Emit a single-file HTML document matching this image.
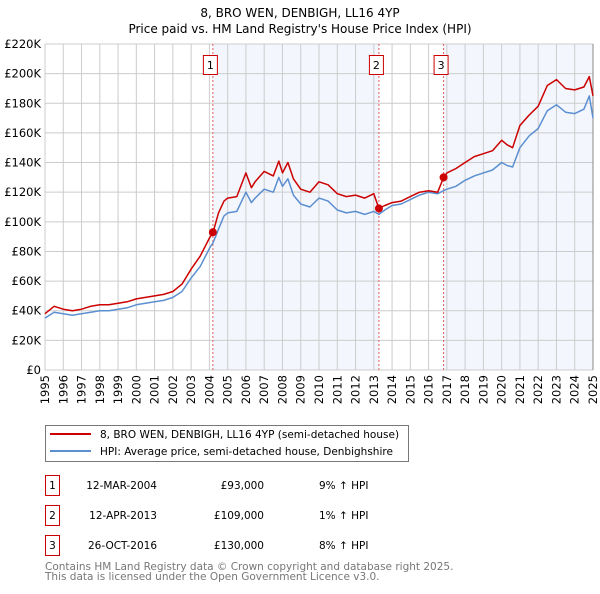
<!DOCTYPE html>
<html><head><meta charset="utf-8"><style>
body{margin:0;background:#fff;font-family:"DejaVu Sans","Liberation Sans",sans-serif;}
svg text{font-family:"DejaVu Sans","Liberation Sans",sans-serif;}
</style></head><body>
<svg id="chart" width="600" height="590" viewBox="0 0 600 590" xmlns="http://www.w3.org/2000/svg">
<text x="300" y="17" text-anchor="middle" font-size="12" fill="#000">8, BRO WEN, DENBIGH, LL16 4YP</text>
<text x="300" y="33" text-anchor="middle" font-size="12" fill="#000">Price paid vs. HM Land Registry's House Price Index (HPI)</text>
<g id="plot"></g>
<g>
<rect x="45.5" y="425.5" width="363" height="36" fill="#fff" stroke="#777"/>
<line x1="50" y1="434" x2="91" y2="434" stroke="#cc0000" stroke-width="2"/>
<text x="100" y="438" font-size="10.5">8, BRO WEN, DENBIGH, LL16 4YP (semi-detached house)</text>
<line x1="50" y1="451" x2="91" y2="451" stroke="#5b8fd0" stroke-width="2"/>
<text x="100" y="455" font-size="10.5">HPI: Average price, semi-detached house, Denbighshire</text>
</g>
<g font-size="10.5">
<rect x="45.5" y="475.5" width="14" height="20" fill="#fff" stroke="#cc0000"/><text x="52.5" y="489" text-anchor="middle">1</text>
<text x="157" y="489" text-anchor="end">12-MAR-2004</text><text x="264" y="489" text-anchor="end">£93,000</text><text x="319" y="489">9% ↑ HPI</text>
<rect x="45.5" y="505.5" width="14" height="20" fill="#fff" stroke="#cc0000"/><text x="52.5" y="519" text-anchor="middle">2</text>
<text x="157" y="519" text-anchor="end">12-APR-2013</text><text x="264" y="519" text-anchor="end">£109,000</text><text x="319" y="519">1% ↑ HPI</text>
<rect x="45.5" y="535.5" width="14" height="20" fill="#fff" stroke="#cc0000"/><text x="52.5" y="549" text-anchor="middle">3</text>
<text x="157" y="549" text-anchor="end">26-OCT-2016</text><text x="264" y="549" text-anchor="end">£130,000</text><text x="319" y="549">8% ↑ HPI</text>
</g>
<text x="45" y="570" font-size="10.5" fill="#777">Contains HM Land Registry data © Crown copyright and database right 2025.</text>
<text x="45" y="580" font-size="10.5" fill="#777">This data is licensed under the Open Government Licence v3.0.</text>
</svg>
<script>
const dates=[1995,1995.5,1996,1996.5,1997,1997.5,1998,1998.5,1999,1999.5,2000,2000.5,2001,2001.5,2002,2002.5,2003,2003.5,2004,2004.2,2004.5,2004.8,2005,2005.5,2006,2006.3,2006.5,2007,2007.5,2007.8,2008,2008.3,2008.6,2009,2009.5,2010,2010.5,2011,2011.5,2012,2012.5,2013,2013.28,2013.6,2014,2014.5,2015,2015.5,2016,2016.5,2016.82,2017,2017.5,2018,2018.5,2019,2019.5,2020,2020.3,2020.6,2021,2021.5,2022,2022.5,2023,2023.5,2024,2024.5,2024.8,2025];
const hpiValues=[35,39,38,37,38,39,40,40,41,42,44,45,46,47,49,53,62,70,82,86,95,104,106,107,120,113,116,122,120,130,124,129,118,112,110,116,114,108,106,107,105,107,105,108,111,112,115,118,120,119,121,122,124,128,131,133,135,140,138,137,150,158,163,175,179,174,173,176,185,170];
const priceValues=[38,43,41,40,41,43,44,44,45,46,48,49,50,51,53,58,68,77,89,93,106,114,116,117,133,123,127,134,131,141,133,140,129,122,120,127,125,119,117,118,116,119,109,111,113,114,117,120,121,120,130,133,136,140,144,146,148,155,152,150,165,172,178,192,196,190,189,191,198,185];
const saleDates=[2004.19,2013.28,2016.82];
const salePrices=[93,109,130];
const yTicks=[0,20,40,60,80,100,120,140,160,180,200,220];
const yTickLabels=["£0","£20K","£40K","£60K","£80K","£100K","£120K","£140K","£160K","£180K","£200K","£220K"];
const xTicks=[1995,1996,1997,1998,1999,2000,2001,2002,2003,2004,2005,2006,2007,2008,2009,2010,2011,2012,2013,2014,2015,2016,2017,2018,2019,2020,2021,2022,2023,2024,2025];

const NS="http://www.w3.org/2000/svg";
const X0=45,X1=593,Y0=370,Y1=44;
const xs=d=>X0+(d-1995)/30*(X1-X0);
const ys=v=>Y0-v/220*(Y0-Y1);
const g=document.getElementById('plot');
function mk(t,a){const e=document.createElementNS(NS,t);for(const k in a)e.setAttribute(k,a[k]);g.appendChild(e);return e;}
let s1=mk('rect',{x:xs(saleDates[0]),y:Y1,width:xs(saleDates[1])-xs(saleDates[0]),height:Y0-Y1,fill:'#f3f6fd'});


let s2=mk('rect',{x:xs(saleDates[2]),y:Y1,width:X1-xs(saleDates[2]),height:Y0-Y1,fill:'#f3f6fd'});


yTicks.forEach((v,i)=>{
 let l=mk('line',{x1:X0,x2:X1,y1:ys(v),y2:ys(v),stroke:'#ccc','stroke-width':1});
 
 
 let t=mk('text',{x:X0-4,y:ys(v)+4,'text-anchor':'end','font-size':'11.5',fill:'#000'});
 
 
 t.textContent=yTickLabels[i];
});
xTicks.forEach(d=>{
 let l=mk('line',{x1:xs(d),x2:xs(d),y1:Y1,y2:Y0,stroke:'#ccc','stroke-width':1});
 
 
 let t=mk('text',{x:0,y:0,'text-anchor':'end','font-size':'11.5',fill:'#000',transform:`translate(${xs(d)+4},${Y0+5}) rotate(-90)`});
 
 
 t.textContent=d;
});
let ax=mk('line',{x1:X1,x2:X1,y1:Y1,y2:Y0,stroke:'#888','stroke-width':1});


saleDates.forEach((d,i)=>{
 let l=mk('line',{x1:xs(d),x2:xs(d),y1:Y1,y2:Y0,stroke:'#e06060','stroke-width':1,'stroke-dasharray':'2,2'});
 
 
 let r=mk('rect',{x:xs(d)-9.5,y:55.5,width:14,height:19,fill:'#fff',stroke:'#cc0000'});
 
 
 let t=mk('text',{x:xs(d)-2.5,y:69,'text-anchor':'middle','font-size':'11'});
 
 
 t.textContent=String(i+1);
});
function line(vals,color,name){
 let p=mk('polyline',{points:dates.map((d,i)=>xs(d).toFixed(1)+','+ys(vals[i]).toFixed(1)).join(' '),fill:'none',stroke:color,'stroke-width':1.5,'stroke-linejoin':'round'});
 
 
}
line(hpiValues,'#5b8fd0','hpi-line');
line(priceValues,'#cc0000','price-line');
saleDates.forEach((d,i)=>{
 let c=mk('circle',{cx:xs(d),cy:ys(salePrices[i]),r:4,fill:'#cc0000'});
 
 
});
</script>
</body></html>
